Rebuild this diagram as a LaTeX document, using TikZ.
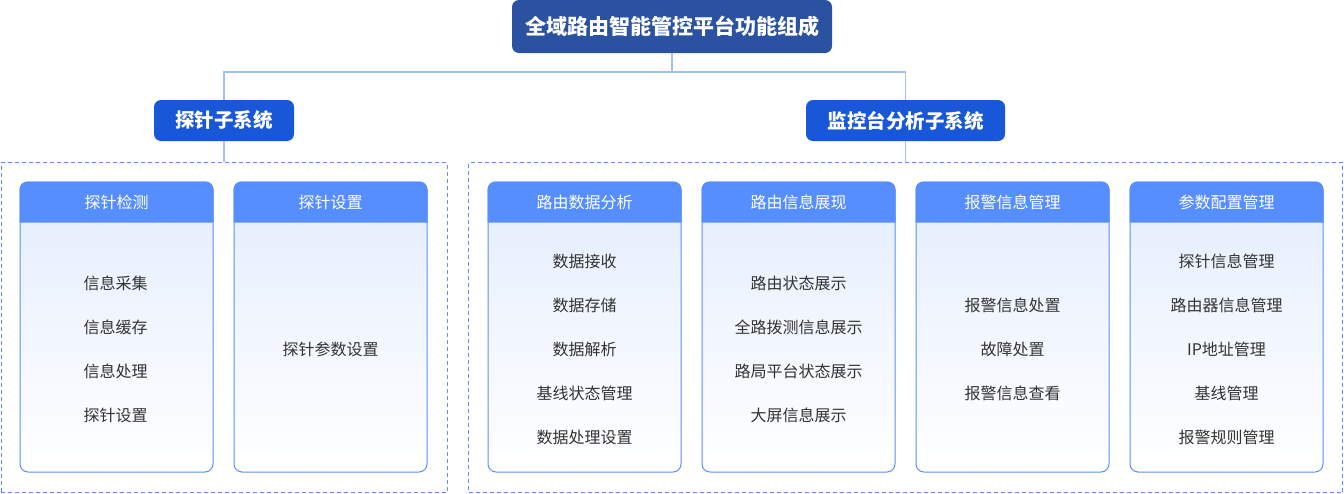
\documentclass[tikz,border=0pt]{standalone}
\usepackage{fontspec}
\newfontfamily\cjk{Noto Sans CJK SC}
\usetikzlibrary{positioning}
\definecolor{rootblue}{HTML}{2A52A0}
\definecolor{subblue}{HTML}{1858D8}
\definecolor{headblue}{HTML}{578EFF}
\definecolor{cardline}{HTML}{5B8FF9}
\definecolor{cardtop}{HTML}{E4EDFE}
\definecolor{linkblue}{HTML}{A0C0F6}
\definecolor{textgray}{HTML}{333333}
\tikzset{
  root/.style={fill=rootblue, rounded corners=7, text=white, minimum width=320, minimum height=53, inner sep=0, font=\cjk\bfseries\fontsize{21}{24}\selectfont},
  sub/.style={fill=subblue, rounded corners=7, text=white, minimum height=41, inner sep=0, font=\cjk\bfseries\fontsize{19.5}{22}\selectfont},
  group/.style={draw=cardline, line width=1, dash pattern=on 4 off 3, inner sep=0},
  card/.style={draw=cardline, line width=1, rounded corners=8, top color=cardtop, bottom color=white, minimum width=193, minimum height=290, inner sep=0},
  headfill/.style={fill=headblue},
  head/.style={text=white, font=\cjk\fontsize{16}{18}\selectfont},
  item/.style={text=textgray, font=\cjk\fontsize{16}{18}\selectfont},
  link/.style={draw=linkblue, line width=1.3}
}
\begin{document}
\begin{tikzpicture}[x=1pt,y=-1pt]
\useasboundingbox (0,0) rectangle (1344,493);
\node[root] (root) at (672,26.5) {全域路由智能管控平台功能组成};
\node[sub, minimum width=140] (sub1) at (224,120.5) {探针子系统};
\node[sub, minimum width=199] (sub2) at (905.5,120.5) {监控台分析子系统};
\node[group, minimum width=446, minimum height=330] (g1) at (224,327.5) {};
\node[group, minimum width=874, minimum height=330] (g2) at (905.5,327.5) {};
\coordinate (bus) at (672,72);
\draw[link] (root.south) -- (bus);
\draw[link] (sub1.north) |- (bus) -| (sub2.north);
\draw[link] (sub1.south) -- (sub1 |- g1.north);
\draw[link] (sub2.south) -- (sub2 |- g2.north);
\foreach \n/\x/\t in {c1/116.5/探针检测, c2/330.5/探针设置, c3/584.5/路由数据分析, c4/798.5/路由信息展现, c5/1012.5/报警信息管理, c6/1226.5/参数配置管理}{
  \node[card] (\n) at (\x,327) {};
  \fill[headfill] ([yshift=-41pt]\n.north west) [rounded corners=8] -- (\n.north west) -- (\n.north east) [sharp corners] -- ([yshift=-41pt]\n.north east) -- cycle;
  \node[head] (\n h) at ([yshift=-21pt]\n.north) {\t};
}
\foreach \t [count=\k] in {信息采集, 信息缓存, 信息处理, 探针设置}
  \node[item] (c1i\k) at (115.5,239+44*\k) {\t};
\node[item] (c2i1) at (330.5,349) {探针参数设置};
\foreach \t [count=\k] in {数据接收, 数据存储, 数据解析, 基线状态管理, 数据处理设置}
  \node[item] (c3i\k) at (584.5,217+44*\k) {\t};
\foreach \t [count=\k] in {路由状态展示, 全路拨测信息展示, 路局平台状态展示, 大屏信息展示}
  \node[item] (c4i\k) at (798.5,239+44*\k) {\t};
\foreach \t [count=\k] in {报警信息处置, 故障处置, 报警信息查看}
  \node[item] (c5i\k) at (1012.5,261+44*\k) {\t};
\foreach \t [count=\k] in {探针信息管理, 路由器信息管理, IP地址管理, 基线管理, 报警规则管理}
  \node[item] (c6i\k) at (1226.5,217+44*\k) {\t};
\end{tikzpicture}
\end{document}
